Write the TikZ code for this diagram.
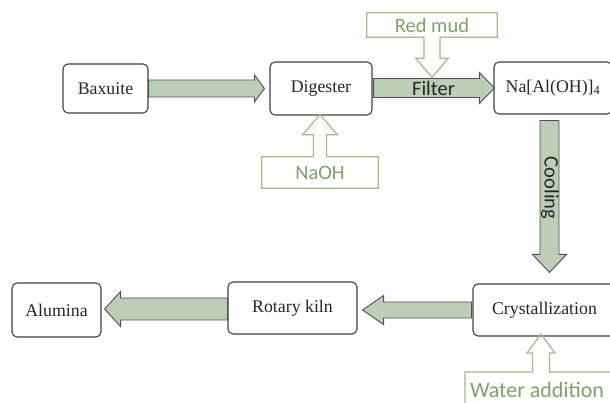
\documentclass[tikz,border=0pt]{standalone}
\usepackage{fontspec}
\setmainfont{Liberation Serif}
\newfontfamily\calfont{Carlito}
\usetikzlibrary{calc}
\definecolor{gline}{RGB}{160,188,140}
\definecolor{gtext}{RGB}{128,160,108}
\definecolor{afill}{RGB}{190,206,182}
\definecolor{adraw}{RGB}{80,80,80}
\definecolor{bdraw}{RGB}{65,65,65}
\tikzset{
  procbox/.style={draw=bdraw, line width=1.1pt, rounded corners=5pt, inner sep=0pt,
    font=\fontsize{17.8}{20}\selectfont, text=black!85},
  fatarrow/.style={draw=adraw, line width=0.9pt, fill=afill, line join=miter},
  callouttext/.style={inner sep=0pt, font=\calfont\fontsize{20.5}{22}\selectfont, text=gtext},
  calloutline/.style={draw=gline, line width=1.2pt, line join=miter},
  arrowlabel/.style={inner sep=0pt, font=\calfont\fontsize{20.5}{22}\selectfont, text=black!85}
}
% horizontal fat arrow: from, to, dir, start gap, tip gap, half shaft, half head, head length
\newcommand\fatH[8]{%
\draw[fatarrow] let \p1=(#1), \p2=(#2) in
({\x1+(#3)*(#4)},{\y1+#6}) -- ({\x2-(#3)*(#5+#8)},{\y1+#6}) -- ({\x2-(#3)*(#5+#8)},{\y1+#7}) --
({\x2-(#3)*(#5)},{\y1}) -- ({\x2-(#3)*(#5+#8)},{\y1-#7}) -- ({\x2-(#3)*(#5+#8)},{\y1-#6}) --
({\x1+(#3)*(#4)},{\y1-#6}) -- cycle;}
% vertical (downward) fat arrow: from, to, start gap, tip gap, half shaft, half head, head length
\newcommand\fatV[7]{%
\draw[fatarrow] let \p1=(#1), \p2=(#2) in
({\x1-#5},{\y1-#3}) -- ({\x1-#5},{\y2+#4+#7}) -- ({\x1-#6},{\y2+#4+#7}) -- ({\x1},{\y2+#4}) --
({\x1+#6},{\y2+#4+#7}) -- ({\x1+#5},{\y2+#4+#7}) -- ({\x1+#5},{\y1-#3}) -- cycle;}
\begin{document}
\begin{tikzpicture}[x=1pt,y=1pt]
\useasboundingbox (0,0) rectangle (610,403);
\clip (0,0) rectangle (610,403);
\fill[white] (0,0) rectangle (610,403);
% process boxes
\node[procbox, minimum width=85pt, minimum height=49pt] (bax) at (105.5,314.5) {Baxuite};
\node[procbox, minimum width=102pt, minimum height=53pt] (dig) at (321,314.5) {Digester};
\node[procbox, minimum width=118pt, minimum height=52pt] (na) at (553,315) {Na[Al(OH)]\textsubscript{4}};
\node[procbox, minimum width=143pt, minimum height=52pt] (crys) at (544.5,93) {Crystallization};
\node[procbox, minimum width=129pt, minimum height=52pt] (rot) at (292.5,95) {Rotary kiln};
\node[procbox, minimum width=89pt, minimum height=54pt] (alu) at (56.5,93) {Alumina};
% fat arrows
\fatH{bax.east}{dig.west}{1}{0pt}{5pt}{8.5pt}{13.5pt}{10pt}
\fatH{$(dig.east)+(0,0.5pt)$}{na.west}{1}{1pt}{-1pt}{9.5pt}{15.5pt}{15pt}
\fatV{$(na.south)+(-3.5pt,0)$}{crys.north}{6pt}{11pt}{9.5pt}{17pt}{18pt}
\fatH{crys.west}{rot.east}{-1}{1pt}{5pt}{8pt}{14.5pt}{21pt}
\fatH{$(rot.west)+(0,-1pt)$}{alu.east}{-1}{0pt}{3pt}{11pt}{17.5pt}{16pt}
% arrow labels
\node[arrowlabel] (filter) at (433.5,315) {Filter};
\node[arrowlabel, rotate=-90] (cooling) at (550,215) {Cooling};
% Red mud callout
\node[callouttext, minimum width=130pt, minimum height=24pt] (redmud) at (432,378) {Red mud};
\coordinate (rmtip) at ($(redmud.south)+(0,-40pt)$);
\draw[calloutline] (redmud.south west) -- (redmud.north west) -- (redmud.north east) -- (redmud.south east)
  -- ($(redmud.south)+(8pt,0)$) -- ++(0,-21pt) -- ++(8.5pt,0) -- (rmtip)
  -- ($(redmud.south)+(-16.5pt,-21pt)$) -- ++(8.5pt,0) -- ($(redmud.south)+(-8pt,0)$) -- cycle;
% NaOH callout
\node[callouttext, minimum width=116pt, minimum height=31pt] (naoh) at (320,230.5) {NaOH};
\coordinate (natip) at ($(naoh.north)+(0,42pt)$);
\draw[calloutline] (naoh.north west) -- (naoh.south west) -- (naoh.south east) -- (naoh.north east)
  -- ($(naoh.north)+(6.5pt,0)$) -- ++(0,22pt) -- ++(11pt,0) -- (natip)
  -- ($(naoh.north)+(-17.5pt,22pt)$) -- ++(11pt,0) -- ($(naoh.north)+(-6.5pt,0)$) -- cycle;
% Water addition callout
\node[callouttext, font=\calfont\fontsize{22}{24}\selectfont] (water) at (537,13.5) {Water addition};
\coordinate (wtip) at ($(water.center)+(4pt,55.5pt)$);
\draw[calloutline] ($(water.center)+(-72pt,-30pt)$) -- ($(water.center)+(-72pt,17.5pt)$)
  -- ($(water.center)+(-4.5pt,17.5pt)$) -- ++(0,19pt) -- ++(-5.5pt,0) -- (wtip)
  -- ($(water.center)+(18pt,36.5pt)$) -- ++(-5.5pt,0) -- ($(water.center)+(12.5pt,17.5pt)$)
  -- ($(water.center)+(100pt,17.5pt)$);
\end{tikzpicture}
\end{document}
